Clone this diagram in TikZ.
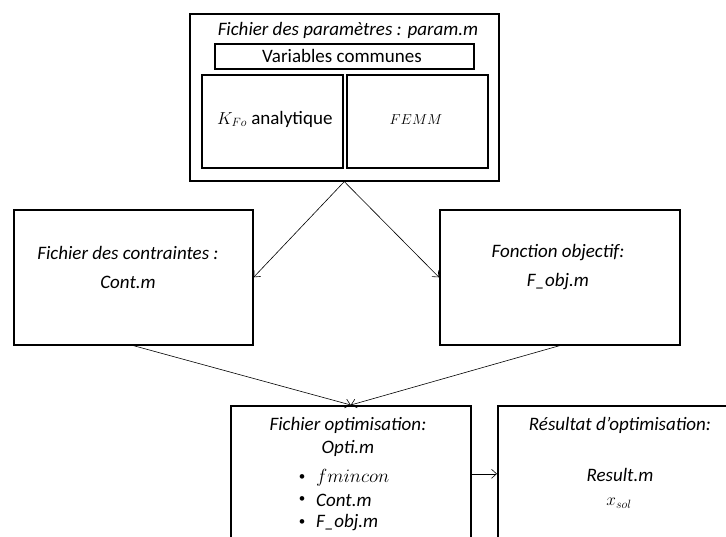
\documentclass[tikz,border=0pt]{standalone}
\usepackage{graphicx}
\usepackage{fontspec}
\setmainfont{Carlito}
\usetikzlibrary{arrows.meta}
\tikzset{
  box/.style={draw, line width=1.6pt, inner sep=0pt, anchor=north west},
  lbl/.style={inner sep=0pt, font=\fontsize{19}{23}\selectfont\itshape},
  rlbl/.style={inner sep=0pt, font=\fontsize{19}{23}\selectfont},
  mlbl/.style={inner sep=0pt, font=\fontsize{#1}{#1}\selectfont},
  bul/.style={inner sep=0pt, font=\fontsize{13}{13}\selectfont},
  conn/.style={line width=0.6pt, -{Straight Barb[length=5pt,width=9pt]}},
}
\begin{document}
\begin{tikzpicture}[x=1pt,y=-1pt]
\useasboundingbox (0,0) rectangle (726,536);
\clip (0,0) rectangle (726,536);
% top parameter file
\node[box, minimum width=309pt, minimum height=167pt] (param) at (189,13) {};
\node[lbl] (paramt) at (348,30) {Fichier des paramètres : param.m};
\node[box, minimum width=259pt, minimum height=25pt] (vars) at (214,43) {};
\node[rlbl] (varst) at (342,56) {Variables communes};
\node[box, minimum width=141pt, minimum height=93pt] (kfo) at (201,74) {};
\node[rlbl, anchor=west] (kfot) at (217,119) {{\fontsize{17.28}{18}\selectfont$K_{Fo}$} analytique};
\node[box, minimum width=141pt, minimum height=93pt] (femm) at (346,74) {};
\node[mlbl=14.4] (femmt) at (416,120) {$FEMM$};
% constraints
\node[box, minimum width=239pt, minimum height=135pt] (cont) at (13,209) {};
\node[lbl] (contt1) at (128,253) {Fichier des contraintes :};
\node[lbl] (contt2) at (128,282) {Cont.m};
% objective
\node[box, minimum width=240pt, minimum height=135pt] (obj) at (439,209) {};
\node[lbl] (objt1) at (558,253) {Fonction objectif:};
\node[lbl] (objt2) at (558,282) {F\_obj.m};
% optimisation
\node[box, minimum width=240pt, minimum height=136pt] (opti) at (230,405) {};
\node[lbl] (optit1) at (348,425) {Fichier optimisation:};
\node[lbl] (optit2) at (348,448) {Opti.m};
\node[bul] (b1) at (302,478) {\textbullet};
\node[mlbl=17.28, anchor=west] (o1) at (316,478) {\scalebox{1.1}{$fmincon$}};
\node[bul] (b2) at (302,500) {\textbullet};
\node[lbl, anchor=west] (o2) at (316,500) {Cont.m};
\node[bul] (b3) at (302,523) {\textbullet};
\node[lbl, anchor=west] (o3) at (316,523) {F\_obj.m};
% result
\node[box, minimum width=248pt, minimum height=136pt] (res) at (497,405) {};
\node[lbl] (rest1) at (620,425) {Résultat d’optimisation:};
\node[lbl] (rest2) at (620,475) {Result.m};
\node[mlbl=17.28] (rest3) at (619,503) {$x_{sol}$};
% connectors
\draw[conn] (param.south) -- (cont.east);
\draw[conn] (param.south) -- (obj.west);
\draw[conn] (cont.south) -- (opti.north);
\draw[conn] (obj.south) -- (opti.north);
\draw[conn] (opti.east) -- (res.west);
\end{tikzpicture}
\end{document}
